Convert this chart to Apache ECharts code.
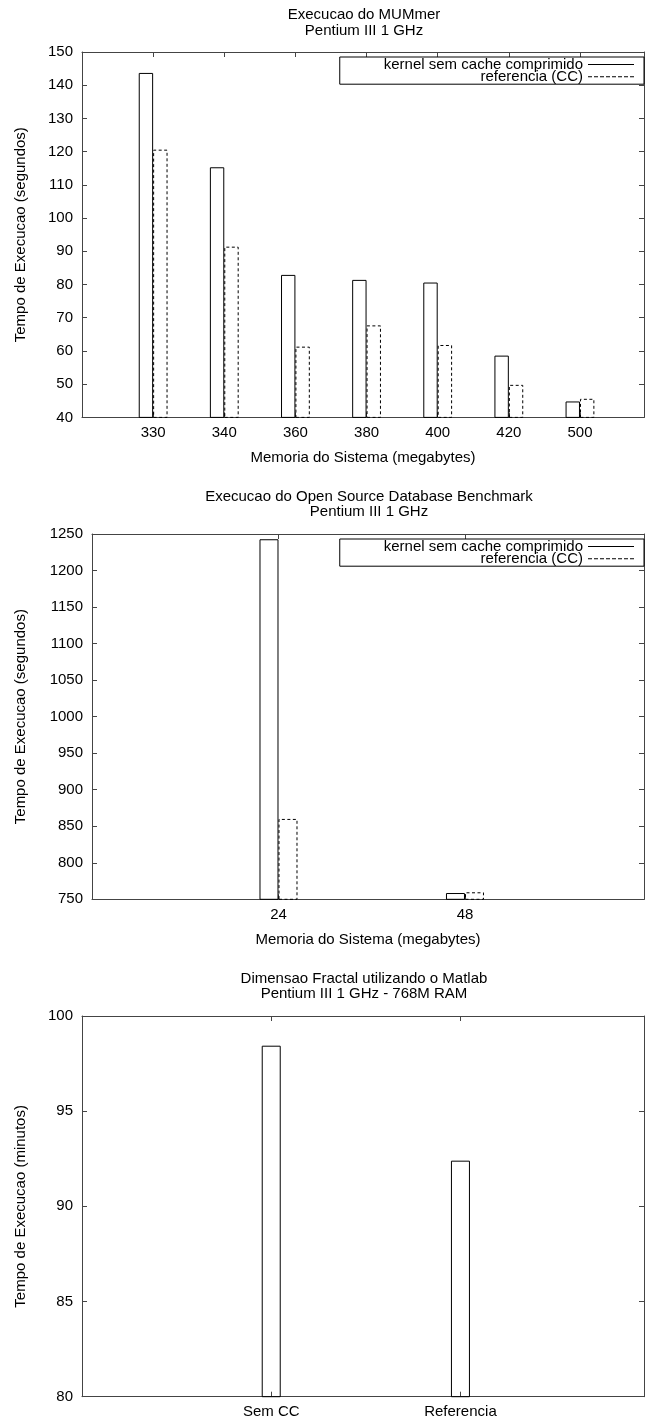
<!DOCTYPE html>
<html><head><meta charset="utf-8">
<script src="https://cdn.jsdelivr.net/npm/echarts@6/dist/echarts.min.js"></script>
<style>html,body{margin:0;padding:0;background:#fff}#c{width:647px;height:1422px}</style>
</head><body><div id="c"></div>
<script>
// ---- data ----
const seriesNames = ['kernel sem cache comprimido', 'referencia (CC)'];

const mumCategories = ['330', '340', '360', '380', '400', '420', '500'];
const mumKernel = [143.7, 115.3, 82.9, 81.4, 80.6, 58.6, 44.8];
const mumRef = [120.6, 91.4, 61.3, 67.7, 61.8, 49.8, 45.6];
const mumYTicks = [40, 50, 60, 70, 80, 90, 100, 110, 120, 130, 140, 150];

const osdbCategories = ['24', '48'];
const osdbKernel = [1242.8, 758.6];
const osdbRef = [860, 759.6];
const osdbYTicks = [750, 800, 850, 900, 950, 1000, 1050, 1100, 1150, 1200, 1250];

const fracCategories = ['Sem CC', 'Referencia'];
const fracValues = [98.44, 92.4];
const fracYTicks = [80, 85, 90, 95, 100];

// ---- style ----
const FONT = 'Liberation Sans';
const AX = '#444';
const FS = 15;
const DASH = [3, 2.5];
const DASH_ICON = 'path://M0,0h4v1h-4zM6,0h4v1h-4zM12,0h4v1h-4zM18,0h4v1h-4zM24,0h4v1h-4zM30,0h4v1h-4zM36,0h4v1h-4zM42,0h4v1h-4z';

function txt(extra) { return Object.assign({ fontSize: FS, color: '#000', fontFamily: FONT }, extra || {}); }

function xAxes(gi, cats, max, name) {
  const fmt = function (v) { return (Number.isInteger(v) && v >= 0 && v < cats.length) ? cats[v] : ''; };
  const base = {
    type: 'value', gridIndex: gi, min: -1, max: max, interval: 1,
    axisLine: { show: true, onZero: false, lineStyle: { color: AX, width: 1 } },
    axisTick: { show: true, inside: true, length: 5, lineStyle: { color: AX } },
    splitLine: { show: false }
  };
  return [
    Object.assign({}, base, {
      position: 'bottom', name: name, nameLocation: 'middle', nameGap: 33,
      nameTextStyle: txt(),
      axisLabel: { formatter: fmt, margin: 8, fontSize: FS, color: '#000', fontFamily: FONT }
    }),
    Object.assign({}, base, { position: 'top', axisLabel: { show: false } })
  ];
}

function yAxes(gi, ticks, name, nameGap) {
  const base = {
    type: 'value', gridIndex: gi, min: ticks[0], max: ticks[ticks.length - 1], interval: ticks[1] - ticks[0],
    axisLine: { show: true, onZero: false, lineStyle: { color: AX, width: 1 } },
    axisTick: { show: true, inside: true, length: 5, lineStyle: { color: AX } },
    splitLine: { show: false }
  };
  return [
    Object.assign({}, base, {
      position: 'left', name: name, nameLocation: 'middle', nameGap: nameGap, nameRotate: 90,
      nameTextStyle: txt(),
      axisLabel: { formatter: function (v) { return String(v); }, margin: 9, fontSize: FS, color: '#000', fontFamily: FONT }
    }),
    Object.assign({}, base, { position: 'right', axisLabel: { show: false } })
  ];
}

function barSeries(name, xi, yi, cats, vals, width, dashed) {
  return {
    type: 'bar', name: name, xAxisIndex: xi, yAxisIndex: yi,
    data: cats.map(function (c, i) { return [i, vals[i]]; }),
    barWidth: width, barGap: '0%',
    itemStyle: { color: 'rgba(0,0,0,0)', borderColor: '#000', borderWidth: 1, borderType: dashed ? DASH : 'solid' },
    silent: true, clip: true
  };
}

function legendAt(top) {
  return {
    data: [
      { name: seriesNames[0], icon: 'rect', itemStyle: { color: '#000', borderWidth: 0 } },
      { name: seriesNames[1], icon: DASH_ICON, itemStyle: { color: '#000', borderWidth: 0 } }
    ],
    orient: 'vertical', align: 'right', right: 3, top: top,
    itemWidth: 46, itemHeight: 1, itemGap: -2.8,
    padding: [0, 10, 0, 44], borderColor: '#000', borderWidth: 1, backgroundColor: '#fff',
    textStyle: txt({ lineHeight: 12.4 }), selectedMode: false
  };
}

function titleAt(text, cx, top) {
  return {
    text: text, left: cx, top: top, textAlign: 'center', padding: 0,
    textStyle: txt({ fontWeight: 'normal', lineHeight: 15.5 })
  };
}

const xName = 'Memoria do Sistema (megabytes)';

const option = {
  animation: false,
  backgroundColor: '#fff',
  title: [
    titleAt('Execucao do MUMmer\nPentium III 1 GHz', 364, 7.3),
    titleAt('Execucao do Open Source Database Benchmark\nPentium III 1 GHz', 369, 489),
    titleAt('Dimensao Fractal utilizando o Matlab\nPentium III 1 GHz - 768M RAM', 364, 971)
  ],
  legend: [legendAt(57), legendAt(539)],
  grid: [
    { left: 82, right: 1, top: 52, height: 365.4 },
    { left: 92, right: 1, top: 534, height: 365.3 },
    { left: 82, right: 1, top: 1016, height: 380.7 }
  ],
  xAxis: [].concat(
    xAxes(0, mumCategories, 6.9, xName),
    xAxes(1, osdbCategories, 1.96, xName),
    xAxes(2, fracCategories, 1.97, '')
  ),
  yAxis: [].concat(
    yAxes(0, mumYTicks, 'Tempo de Execucao (segundos)', 54),
    yAxes(1, osdbYTicks, 'Tempo de Execucao (segundos)', 64),
    yAxes(2, fracYTicks, 'Tempo de Execucao (minutos)', 54)
  ),
  series: [
    barSeries(seriesNames[0], 0, 0, mumCategories, mumKernel, 14.4, false),
    barSeries(seriesNames[1], 0, 0, mumCategories, mumRef, 14.4, true),
    barSeries(seriesNames[0], 2, 2, osdbCategories, osdbKernel, 19, false),
    barSeries(seriesNames[1], 2, 2, osdbCategories, osdbRef, 19, true),
    barSeries('Dimensao Fractal', 4, 4, fracCategories, fracValues, 19, false)
  ]
};

const chart = echarts.init(document.getElementById('c'), null, { renderer: 'canvas' });
chart.setOption(option);
</script>
</body></html>
